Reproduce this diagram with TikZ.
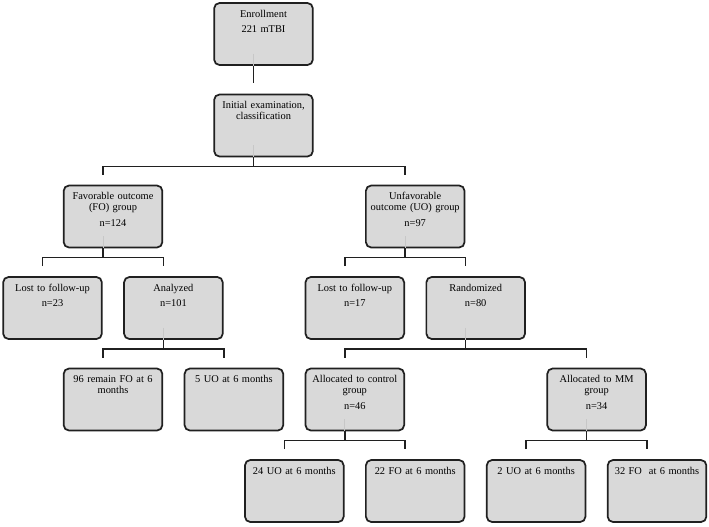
\documentclass[tikz,border=0pt]{standalone}
\usepackage{fontspec}
\setmainfont{Liberation Serif}
\usetikzlibrary{calc}
\definecolor{boxfill}{HTML}{D9D9D9}
\definecolor{boxline}{HTML}{202020}
\tikzset{
  stage/.style={draw=boxline, line width=1.3pt, rounded corners=4pt, fill=boxfill,
    inner sep=0pt, text width=74pt, align=center, text height=10.5pt, text depth=36pt,
    font=\fontsize{7.8}{8.5}\selectfont},
  link/.style={draw=boxline, line width=1.1pt},
  stub/.style={draw=black!22, line width=0.6pt}
}
\begin{document}
\begin{tikzpicture}[x=0.75pt, y=-0.75pt]
\useasboundingbox[fill=white] (0,0) rectangle (709,526);
% boxes
\node[stage] (enr)   at (263.5,34)  {Enrollment\\[3pt]221 mTBI};
\node[stage] (init)  at (263.5,125.5) {Initial examination,\\classification};
\node[stage] (fo)    at (113,216.5) {Favorable outcome\\(FO) group\\[3pt]n=124};
\node[stage] (uo)    at (415.2,216.5) {Unfavorable\\outcome (UO) group\\[3pt]n=97};
\node[stage] (lostfo) at (52.5,308) {Lost to follow-up\\[3pt]n=23};
\node[stage] (ana)   at (173.4,308) {Analyzed\\[3pt]n=101};
\node[stage] (lostuo) at (354.8,308) {Lost to follow-up\\[3pt]n=17};
\node[stage] (rand)  at (475.7,308) {Randomized\\[3pt]n=80};
\node[stage] (remfo) at (113,399.5) {96 remain FO at 6\\months};
\node[stage] (uofive) at (233.9,399.5) {5 UO at 6 months};
\node[stage] (ctl)   at (354.8,399.5) {Allocated to control\\group\\[3pt]n=46};
\node[stage] (mm)    at (596.6,399.5) {Allocated to MM\\group\\[3pt]n=34};
\node[stage] (ctluo) at (294.3,491) {24 UO at 6 months};
\node[stage] (ctlfo) at (415.2,491) {22 FO at 6 months};
\node[stage] (mmuo)  at (536.1,491) {2 UO at 6 months};
\node[stage] (mmfo)  at (657,491)   {32 FO\ \ at 6 months};
% faint stubs inside the parent boxes
\foreach \p in {enr,init,fo,uo,ana,rand,ctl,mm}
  \draw[stub] ($(\p.south)+(-10,-12)$) -- ($(\p.south)+(-10,0)$);
% connectors
\draw[link] ($(enr.south)+(-10,0)$) -- ($(init.north)+(-10,-11)$);
\draw[link] ($(init.south)+(-10,0)$) -- ++(0,9) coordinate (j1);
\draw[link] ($(fo.north)+(-10,-10)$) |- (j1) -| ($(uo.north)+(-10,-10)$);
\draw[link] ($(fo.south)+(-10,0)$) -- ++(0,9) coordinate (j2);
\draw[link] ($(lostfo.north)+(-10,-10)$) |- (j2) -| ($(ana.north)+(-10,-10)$);
\draw[link] ($(uo.south)+(-10,0)$) -- ++(0,9) coordinate (j3);
\draw[link] ($(lostuo.north)+(-10,-10)$) |- (j3) -| ($(rand.north)+(-10,-10)$);
\draw[link] ($(ana.south)+(-10,0)$) -- ++(0,9) coordinate (j4);
\draw[link] ($(remfo.north)+(-10,-10)$) |- (j4) -| ($(uofive.north)+(-10,-10)$);
\draw[link] ($(rand.south)+(-10,0)$) -- ++(0,9) coordinate (j5);
\draw[link] ($(ctl.north)+(-10,-10)$) |- (j5) -| ($(mm.north)+(-10,-10)$);
\draw[link] ($(ctl.south)+(-10,0)$) -- ++(0,9) coordinate (j6);
\draw[link] ($(ctluo.north)+(-10,-10)$) |- (j6) -| ($(ctlfo.north)+(-10,-10)$);
\draw[link] ($(mm.south)+(-10,0)$) -- ++(0,9) coordinate (j7);
\draw[link] ($(mmuo.north)+(-10,-10)$) |- (j7) -| ($(mmfo.north)+(-10,-10)$);
\end{tikzpicture}
\end{document}
